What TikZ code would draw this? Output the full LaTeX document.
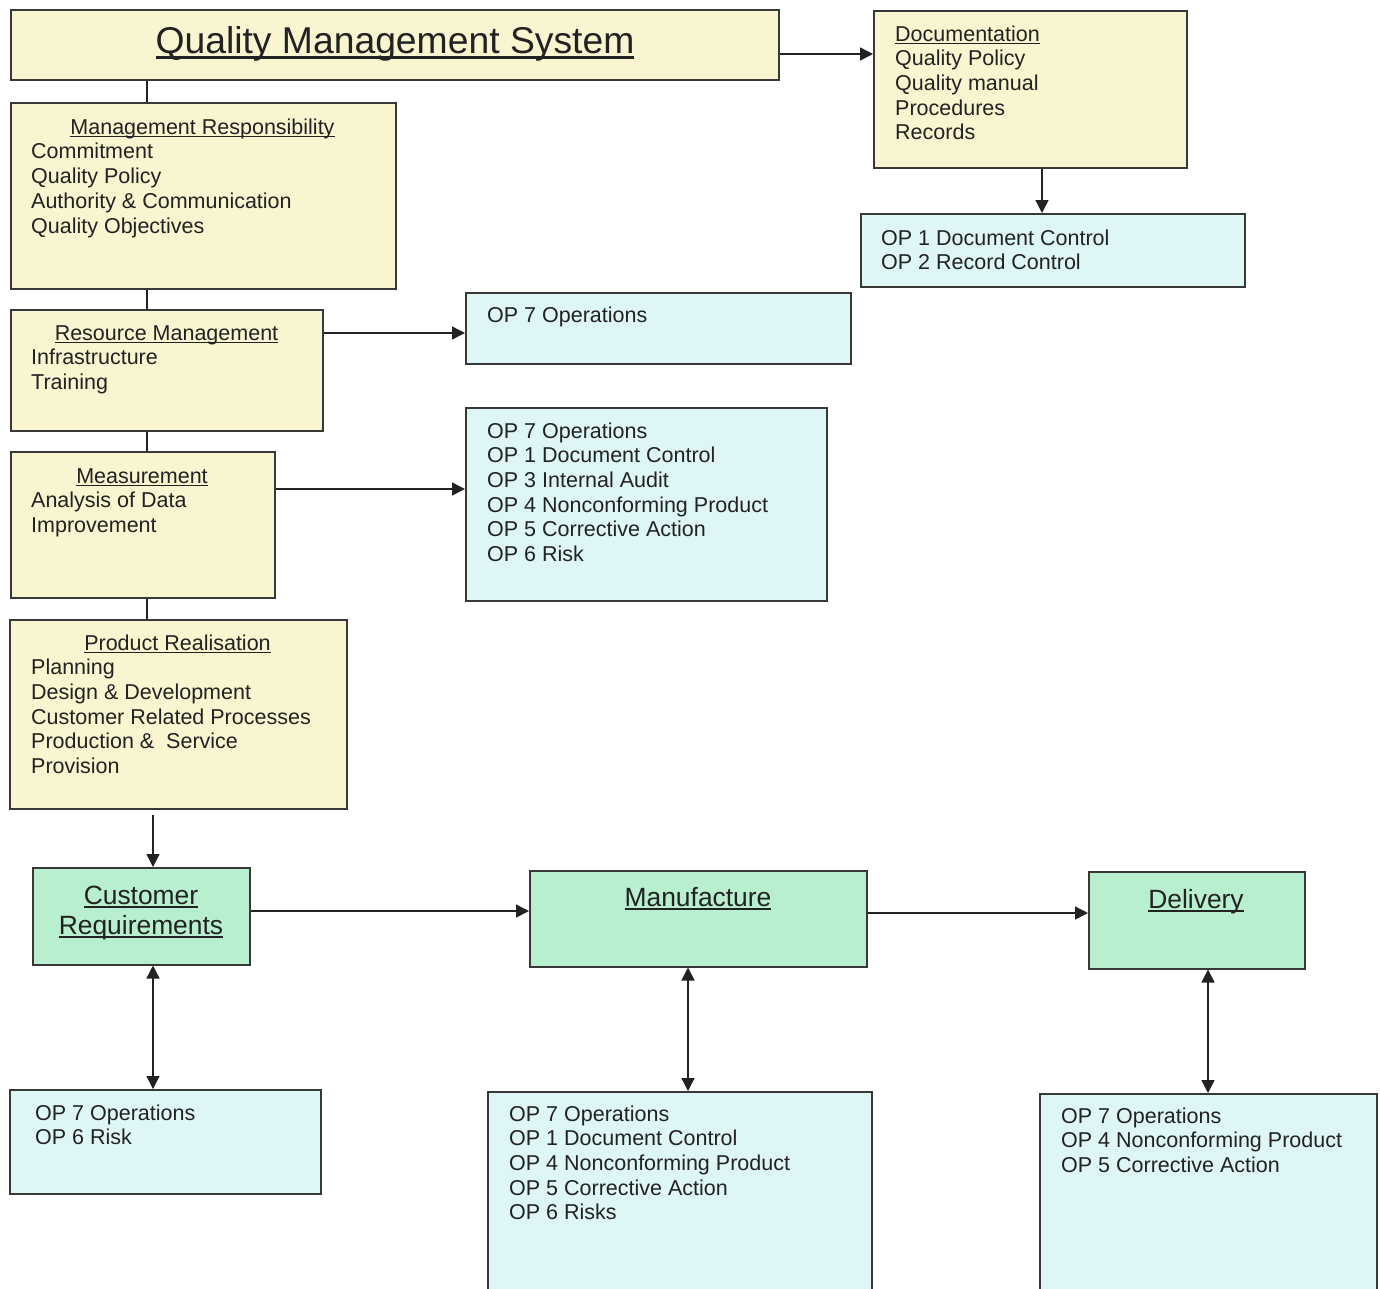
\documentclass[tikz,border=0pt]{standalone}
\usepackage{fontspec}
\setmainfont{Liberation Sans}
\usetikzlibrary{arrows.meta}
\definecolor{qyellow}{HTML}{F8F5D0}
\definecolor{qblue}{HTML}{DEF6F6}
\definecolor{qgreen}{HTML}{B8EFCF}
\definecolor{qink}{HTML}{222222}
\newcommand\qul[1]{\setbox0\hbox{#1}\rlap{\copy0}\rule[-0.16em]{\wd0}{0.07em}}
\newcommand\qsmall{\fontsize{21.5}{24.7}\selectfont}
\newcommand\qmid{\fontsize{26.4}{30}\selectfont}
\newcommand\qbig{\fontsize{37.3}{44}\selectfont}
\tikzset{qframe/.style={draw=qink!90,line width=1.5pt,anchor=north west,inner sep=0pt},
         qbox/.style={qframe,fill=qyellow},
         opbox/.style={qframe,fill=qblue},
         stepbox/.style={qframe,fill=qgreen},
         qline/.style={anchor=base west,inner sep=0pt,font=\qsmall,text=qink},
         qhead/.style={anchor=base,inner sep=0pt,font=\qsmall,text=qink},
         qlink/.style={draw=qink,line width=1.4pt},
         qarr/.style={qlink,-{Triangle[length=13pt,width=13pt]}},
         qdbl/.style={qlink,{Triangle[length=13pt,width=13pt]}-{Triangle[length=13pt,width=13pt]}}}

\begin{document}
\begin{tikzpicture}[x=1pt,y=-1pt]
    \clip (0,0) rectangle (1380,1288);
    \fill[white] (0,0) rectangle (1380,1288);
    % boxes
    \node[qbox,minimum width=768pt,minimum height=70pt] (qms) at (10,9) {};
    \node[qbox,minimum width=313pt,minimum height=157pt] (doc) at (873,10) {};
    \node[opbox,minimum width=384pt,minimum height=73pt] (op12) at (860,213) {};
    \node[qbox,minimum width=385pt,minimum height=186pt] (mr) at (10,102) {};
    \node[qbox,minimum width=312pt,minimum height=121pt] (rm) at (10,309) {};
    \node[opbox,minimum width=385pt,minimum height=71pt] (op7) at (465,292) {};
    \node[qbox,minimum width=264pt,minimum height=146pt] (ms) at (10,451) {};
    \node[opbox,minimum width=361pt,minimum height=193pt] (opms) at (465,407) {};
    \node[qbox,minimum width=337pt,minimum height=189pt] (pr) at (9,619) {};
    \node[stepbox,minimum width=217pt,minimum height=97pt] (cr) at (32,867) {};
    \node[stepbox,minimum width=337pt,minimum height=96pt] (mf) at (529,870) {};
    \node[stepbox,minimum width=216pt,minimum height=97pt] (dl) at (1088,871) {};
    \node[opbox,minimum width=311pt,minimum height=104pt] (opcr) at (9,1089) {};
    \node[opbox,minimum width=384pt,minimum height=230pt] (opmf) at (487,1091) {};
    \node[opbox,minimum width=337pt,minimum height=230pt] (opdl) at (1039,1093) {};

    % texts
    \node[anchor=base,inner sep=0pt,font=\qbig,text=qink] (qmst) at (395,53) {\qul{Quality Management System}};
    \node[qline] (doct) at (895,41) {\qul{Documentation}};
    \foreach \t [count=\i] in {Quality Policy,Quality manual,Procedures,Records}
      \node[qline] (doc\i) at (895,41+24.7*\i) {\t};
    \foreach \t [count=\i from 0] in {OP 1 Document Control,OP 2 Record Control}
      \node[qline] (op12\i) at (881,245+24.7*\i) {\t};
    \node[qhead] (mrt) at (202.5,134) {\qul{Management Responsibility}};
    \foreach \t [count=\i] in {Commitment,Quality Policy,Authority \& Communication,Quality Objectives}
      \node[qline] (mr\i) at (31,134+24.8*\i) {\t};
    \node[qhead] (rmt) at (166.5,340) {\qul{Resource Management}};
    \foreach \t [count=\i] in {Infrastructure,Training}
      \node[qline] (rm\i) at (31,340+24.6*\i) {\t};
    \node[qline] (op7t) at (487,322) {OP 7 Operations};
    \node[qhead] (mst) at (142,483) {\qul{Measurement}};
    \foreach \t [count=\i] in {Analysis of Data,Improvement}
      \node[qline] (ms\i) at (31,483+24.6*\i) {\t};
    \foreach \t [count=\i from 0] in {OP 7 Operations,OP 1 Document Control,OP 3 Internal Audit,
                                      OP 4 Nonconforming Product,OP 5 Corrective Action,OP 6 Risk}
      \node[qline] (opms\i) at (487,438+24.7*\i) {\t};
    \node[qhead] (prt) at (177.5,650) {\qul{Product Realisation}};
    \foreach \t [count=\i] in {Planning,Design \& Development,Customer Related Processes,
                               Production \&\ \ Service,Provision}
      \node[qline] (pr\i) at (31,650+24.7*\i) {\t};
    \node[anchor=base,inner sep=0pt,font=\qmid,text=qink] (crt) at (141,904) {\qul{Customer}};
    \node[anchor=base,inner sep=0pt,font=\qmid,text=qink] (crb) at (141,934) {\qul{Requirements}};
    \node[anchor=base,inner sep=0pt,font=\qmid,text=qink] (mft) at (698,906) {\qul{Manufacture}};
    \node[anchor=base,inner sep=0pt,font=\qmid,text=qink] (dlt) at (1196,908) {\qul{Delivery}};
    \foreach \t [count=\i from 0] in {OP 7 Operations,OP 6 Risk}
      \node[qline] (opcr\i) at (35,1120+24.5*\i) {\t};
    \foreach \t [count=\i from 0] in {OP 7 Operations,OP 1 Document Control,OP 4 Nonconforming Product,
                                      OP 5 Corrective Action,OP 6 Risks}
      \node[qline] (opmf\i) at (509,1121+24.7*\i) {\t};
    \foreach \t [count=\i from 0] in {OP 7 Operations,OP 4 Nonconforming Product,OP 5 Corrective Action}
      \node[qline] (opdl\i) at (1061,1123+24.8*\i) {\t};

    % connectors
    \coordinate (spine) at (147,0);
    \foreach \a/\b in {qms/mr,mr/rm,rm/ms,ms/pr}
      \draw[qlink] (\a.south -| spine) -- (\b.north -| spine);
    \foreach \a/\b/\y in {qms/doc/54,rm/op7/333,ms/opms/489,cr/mf/911,mf/dl/913}
      \draw[qarr] (\a.east |- 0,\y) -- (\b.west |- 0,\y);
    \draw[qarr] (doc.south -| 1042,0) -- (op12.north -| 1042,0);
    \draw[qarr,shorten <=5pt] (pr.south -| 153,0) -- (cr.north -| 153,0);
    \foreach \a/\b/\x in {cr/opcr/153,mf/opmf/688,dl/opdl/1208}
      \draw[qdbl] (\a.south -| \x,0) -- (\b.north -| \x,0);
\end{tikzpicture}
\end{document}
